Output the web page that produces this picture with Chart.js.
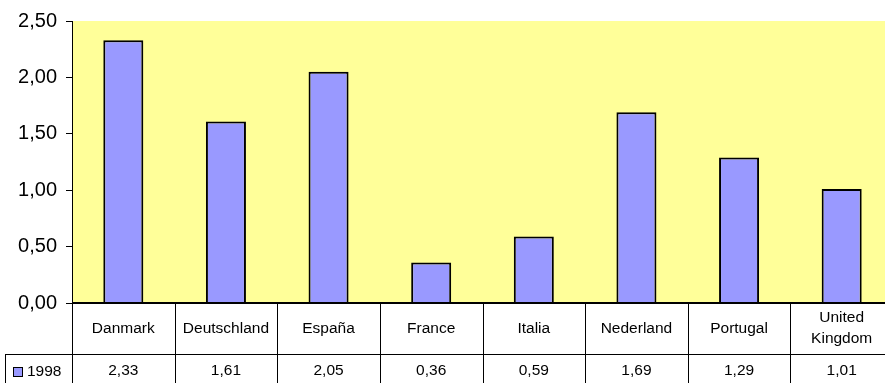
<!DOCTYPE html>
<html>
<head>
<meta charset="utf-8">
<script src="https://cdn.jsdelivr.net/npm/chart.js@4/dist/chart.umd.min.js"></script>
<style>
    html, body { margin: 0; padding: 0; background: #fff; overflow: hidden; }
    #wrap { width: 893px; height: 383px; }
</style>
</head>
<body>
<div id="wrap"><canvas id="grafico" width="893" height="383"></canvas></div>
<script>
// Dados do gráfico
const categorias = ['Danmark', 'Deutschland', 'España', 'France', 'Italia', 'Nederland', 'Portugal', 'United Kingdom'];
const valores1998 = [2.33, 1.61, 2.05, 0.36, 0.59, 1.69, 1.29, 1.01];
const nomeSerie = '1998';
const ticksY = [0, 0.5, 1, 1.5, 2, 2.5];

const fonte = "'Liberation Sans', Arial, sans-serif";
const corBarra = '#9999FF';
const corFundo = '#FFFF99';

// formata com vírgula decimal
function formatar(v) {
    return v.toFixed(2).replace('.', ',');
}

// quebra o rótulo em linhas se não couber na coluna
function quebrarRotulo(ctx, texto, largura) {
    if (ctx.measureText(texto).width <= largura) return [texto];
    return texto.split(' ');
}

// Plugin: fundo amarelo da área do gráfico
const fundoPlugin = {
    id: 'fundo',
    beforeDraw(chart) {
        const { ctx, chartArea: a } = chart;
        ctx.save();
        ctx.fillStyle = corFundo;
        ctx.fillRect(a.left, a.top, a.right - a.left, a.bottom - a.top);
        ctx.restore();
    }
};

// Plugin: tabela de dados abaixo do eixo x
const tabelaPlugin = {
    id: 'tabela',
    afterDraw(chart) {
        const { ctx, chartArea: a } = chart;
        const x = chart.scales.x;
        const passo = x.getPixelForValue(1) - x.getPixelForValue(0);
        const yLinha = 354;
        const yFim = chart.height;

        ctx.save();
        ctx.strokeStyle = '#000';

        // linha do eixo x (mais grossa)
        ctx.lineWidth = 2;
        ctx.beginPath();
        ctx.moveTo(a.left, a.bottom);
        ctx.lineTo(a.right, a.bottom);
        ctx.stroke();

        ctx.lineWidth = 1;
        ctx.beginPath();
        // linha entre rótulos e valores
        ctx.moveTo(5, yLinha + 0.5);
        ctx.lineTo(a.right, yLinha + 0.5);
        // borda esquerda da legenda
        ctx.moveTo(5.5, yLinha);
        ctx.lineTo(5.5, yFim);
        // divisões das colunas
        for (let i = 0; i <= categorias.length; i++) {
            const xi = Math.round(x.getPixelForValue(i) - passo / 2) + 0.5;
            ctx.moveTo(xi, a.bottom);
            ctx.lineTo(xi, yFim);
        }
        ctx.stroke();

        ctx.fillStyle = '#000';
        ctx.font = '15.5px ' + fonte;
        ctx.textAlign = 'center';
        ctx.textBaseline = 'middle';

        categorias.forEach((cat, i) => {
            const cx = x.getPixelForValue(i);
            const linhas = quebrarRotulo(ctx, cat, passo - 6);
            const alturaLinha = 21;
            const y0 = (a.bottom + yLinha) / 2 - (linhas.length - 1) * alturaLinha / 2;
            linhas.forEach((l, j) => ctx.fillText(l, cx, y0 + j * alturaLinha));
            ctx.fillText(formatar(valores1998[i]), cx, 371);
        });

        // legenda da série
        ctx.fillStyle = corBarra;
        ctx.fillRect(13, 367, 10, 10);
        ctx.strokeRect(13.5, 367.5, 9, 9);
        ctx.fillStyle = '#000';
        ctx.textAlign = 'left';
        ctx.fillText(nomeSerie, 27, 372);
        ctx.restore();
    }
};

const grafico = new Chart(document.getElementById('grafico'), {
    type: 'bar',
    data: {
        labels: categorias,
        datasets: [{
            label: nomeSerie,
            data: valores1998,
            backgroundColor: corBarra,
            borderColor: '#000',
            borderWidth: 2,
            barPercentage: 0.39,
            categoryPercentage: 1
        }]
    },
    options: {
        responsive: false,
        animation: false,
        devicePixelRatio: 1,
        layout: { padding: { top: 21, bottom: 80, left: 0, right: 0 } },
        plugins: {
            legend: { display: false },
            tooltip: { enabled: false }
        },
        scales: {
            x: { display: false },
            y: {
                min: 0,
                max: 2.5,
                afterFit(scale) { scale.width = 72; },
                afterBuildTicks(scale) { scale.ticks = ticksY.map(v => ({ value: v })); },
                grid: {
                    drawOnChartArea: false,
                    drawTicks: true,
                    tickLength: 6,
                    tickColor: '#000'
                },
                border: { display: true, color: '#000', width: 1 },
                ticks: {
                    padding: 9,
                    color: '#000',
                    font: { family: fonte, size: 20 },
                    callback: v => formatar(v)
                }
            }
        }
    },
    plugins: [fundoPlugin, tabelaPlugin]
});
</script>
</body>
</html>
